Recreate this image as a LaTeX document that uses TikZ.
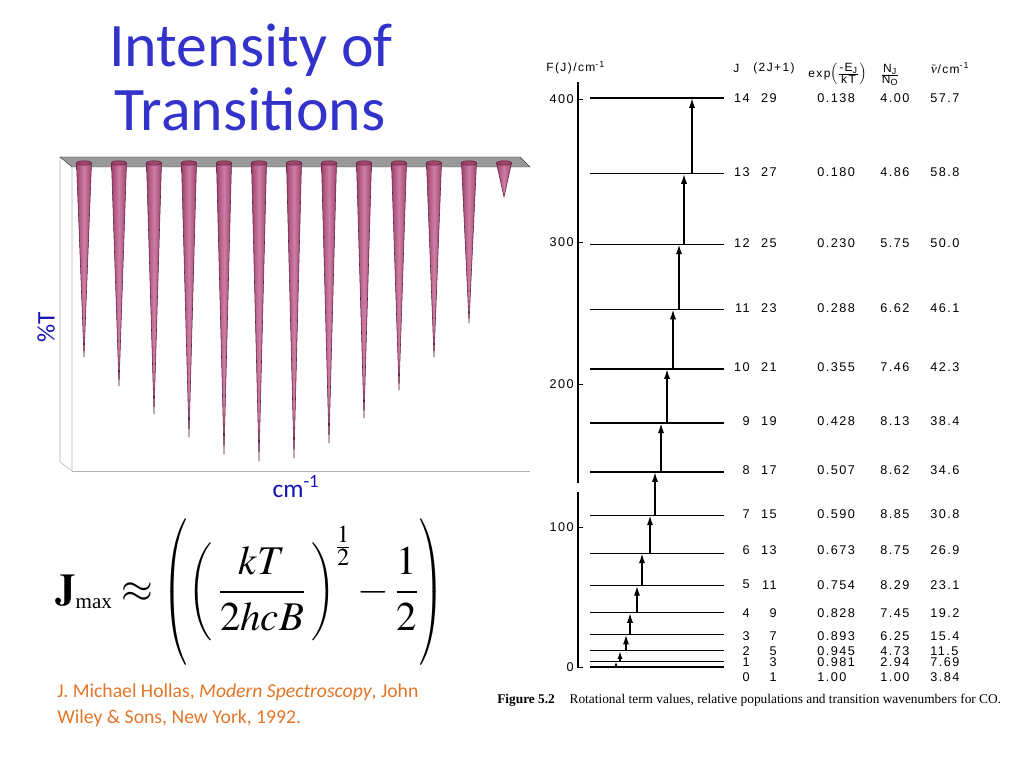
\documentclass[tikz,border=0pt]{standalone}
\usepackage{mathptmx}
\usepackage[no-math]{fontspec}
\usepackage{tikz}
\usetikzlibrary{arrows.meta}
\newfontfamily\slidefont{Carlito}
\newfontfamily\scanfont{Liberation Sans}[LetterSpace=12]
\newfontfamily\capfont{Liberation Serif}
\definecolor{titleblue}{RGB}{51,51,204}
\definecolor{labelblue}{RGB}{20,20,180}
\definecolor{citeorange}{RGB}{226,118,40}
\definecolor{conedark}{RGB}{95,30,60}
\definecolor{conemid}{RGB}{160,68,110}
\definecolor{conelight}{RGB}{205,125,165}
\newcommand\parL[2]{\scalebox{#1}[1]{$\left(\vcenter{\hbox{\rule{0pt}{#2}}}\right.$}}
\newcommand\parR[2]{\scalebox{#1}[1]{$\left.\vcenter{\hbox{\rule{0pt}{#2}}}\right)$}}

\begin{document}
\begin{tikzpicture}[x=0.025cm, y=-0.025cm, >={Latex},
    level/.style={line width=0.9pt},
    trans/.style={line width=1.2pt},
    val/.style={font=\scanfont\fontsize{9}{10}\selectfont, inner sep=0pt},
    hdr/.style={font=\scanfont\fontsize{8.5}{10}\selectfont, inner sep=0pt},
    cone/.style={draw=conedark, line width=0.4pt, left color=conemid, right color=conemid, middle color=conelight},
    slide/.style={font=\slidefont\fontsize{#1}{#1}\selectfont, inner sep=0pt}]
\useasboundingbox (0,0) rectangle (1024,768);

\node[slide=44, text=titleblue, anchor=base] (title1) at (251,67) {Intensity of};
\node[slide=44, text=titleblue, anchor=base] (title2) at (250,131) {Transitions};

% spectrum box
\draw[gray!60, fill=white] (60,157) -- (60,462) -- (72,471) -- (72,167);
\draw[gray!60] (72,471) -- (530,471);
\filldraw[fill=gray!80, draw=gray!45!black, line width=0.3pt] (60,157) -- (520,157) -- (530,167) -- (72,167) -- cycle;
\foreach \x/\t in {84/357,119/386,154/414,189/437,224/454,259/461,294/458,329/443,364/418,399/390,434/357,469/323,504/197}{
  \shadedraw[cone] (\x-7.5,163) -- (\x,\t) -- (\x+7.5,163) -- cycle;
  \filldraw[fill=conemid, draw=conedark, line width=0.4pt] (\x,163) ellipse [x radius=7.5, y radius=2.2];
}
\node[slide=18, text=labelblue, rotate=90] (ylab) at (46,327) {\%T};
\node[slide=18, text=labelblue, anchor=base] (xlab) at (296,497) {cm\textsuperscript{-1}};

\node[inner sep=0pt, font=\fontsize{29}{33}\selectfont] (jmax) at (250,592)
  {$\mathbf{J}_{\mbox{\capfont\fontsize{15}{15}\selectfont max}}\approx\parL{0.7}{95pt}\parL{0.8}{60pt}\,\displaystyle\frac{kT}{2hcB}\,\parR{0.8}{60pt}^{\frac{1}{2}}-\displaystyle\frac{1}{2}\parR{0.7}{95pt}$};

\node[slide=14, text=citeorange, anchor=base west] (cite1) at (57,697) {J. Michael Hollas, \textit{Modern Spectroscopy}, John};
\node[slide=14, text=citeorange, anchor=base west] (cite2) at (57,723) {Wiley \& Sons, New York, 1992.};

% term value diagram
\coordinate (axtop) at (578,82);
\coordinate (axgapA) at (578,483);
\coordinate (axgapB) at (578,492);
\coordinate (axbot) at (578,668);
\draw[line width=0.9pt] (axtop) -- (axgapA);
\draw[line width=0.9pt] (axgapB) -- (axbot);
\foreach \v/\yv in {400/99,300/242,200/384,100/527,0/667}{
  \draw[line width=0.7pt] (578,\yv) -- ++(5,0);
  \node[val, anchor=east] (ax\v) at (574,\yv) {\v};
}

\node[hdr, anchor=west] (hF) at (546,68) {F(J)/cm\textsuperscript{-1}};
\node[hdr, anchor=west] (hJ) at (733,68) {J};
\node[hdr, anchor=west] (hg) at (753,68) {(2J+1)};
\node[hdr, anchor=west] (hexp) at (808,74) {exp$\left(\frac{\mbox{-E\textsubscript{J}}}{\mbox{kT}}\right)$};
\node[hdr, anchor=west] (hN) at (880,75) {$\frac{\mbox{N\textsubscript{J}}}{\mbox{N\textsubscript{O}}}$};
\node[hdr, anchor=west] (hnu) at (930,68) {$\tilde{\nu}$/cm\textsuperscript{-1}};

\foreach \J/\g/\e/\n/\w/\dy in {14/29/0.138/4.00/57.7/0, 13/27/0.180/4.86/58.8/-2,
    12/25/0.230/5.75/50.0/-1, 11/23/0.288/6.62/46.1/-1, 10/21/0.355/7.46/42.3/-2,
    9/19/0.428/8.13/38.4/-2, 8/17/0.507/8.62/34.6/-2, 7/15/0.590/8.85/30.8/-1,
    6/13/0.673/8.75/26.9/-3, 5/11/0.754/8.29/23.1/-1, 4/9/0.828/7.45/19.2/0,
    3/7/0.893/6.25/15.4/2, 2/5/0.945/4.73/11.5/0, 1/3/0.981/2.94/7.69/1, 0/1/1.00/1.00/3.84/10}{
  \pgfmathsetmacro\yl{667-2.71*\J*(\J+1)}
  \coordinate (lv\J) at (590,\yl);
  \draw[level] (lv\J) -- ++(134,0);
  \node[val, anchor=east] (j\J) at (750,\yl+\dy) {\J};
  \node[val, anchor=east] (g\J) at (777,\yl+\dy) {\g};
  \node[val, anchor=west] (e\J) at (817,\yl+\dy) {\e};
  \node[val, anchor=west] (n\J) at (880,\yl+\dy) {\n};
  \node[val, anchor=west] (w\J) at (930,\yl+\dy) {\w};
}

\foreach \J/\xa in {0/616,1/620,2/626,3/630,4/637,5/642,6/650,7/655,8/661,9/667,10/673,11/679,12/684,13/692}{
  \pgfmathtruncatemacro\K{\J+1}
  \pgfmathsetmacro\ya{667-2.71*\J*(\J+1)}
  \pgfmathsetmacro\hl{min(10,4.1*(\J+1))*0.711}
  \pgfmathsetmacro\hw{0.62*\hl}
  \coordinate (tr\J) at (\xa,\ya);
  \draw[trans, -{Latex[length=\hl pt, width=\hw pt]}] (tr\J) -- (tr\J |- lv\K);
}

\node[anchor=base west, inner sep=0pt, font=\capfont\fontsize{9.5}{11}\selectfont] (cap) at (497,703)
  {\textbf{Figure 5.2}\hspace{1.1em}Rotational term values, relative populations and transition wavenumbers for CO.};
\end{tikzpicture}
\end{document}
